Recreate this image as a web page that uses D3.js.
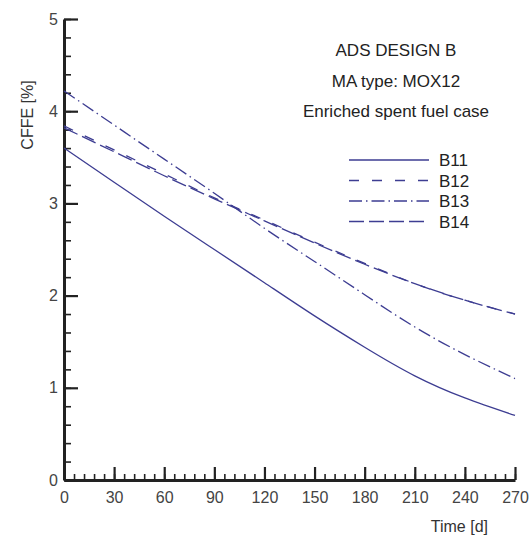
<!DOCTYPE html>
<html>
<head>
<meta charset="utf-8">
<script src="https://cdnjs.cloudflare.com/ajax/libs/d3/7.8.5/d3.min.js"></script>
<style>
  body { margin: 0; background: #fff; }
  text { font-family: "Liberation Sans", Arial, sans-serif; }
</style>
</head>
<body>
<div id="container"></div>
<script>
'use strict'
// data
const days = [0, 30, 60, 90, 120, 150, 180, 210, 240, 270];
const b11 = [3.60, 3.23, 2.86, 2.50, 2.14, 1.78, 1.44, 1.13, 0.89, 0.70];
const b12 = [3.84, 3.58, 3.32, 3.06, 2.82, 2.58, 2.35, 2.13, 1.95, 1.80];
const b13 = [4.22, 3.85, 3.48, 3.11, 2.73, 2.37, 2.01, 1.66, 1.36, 1.10];
const b14 = [3.82, 3.56, 3.30, 3.05, 2.81, 2.57, 2.34, 2.13, 1.95, 1.80];
const seriesNames = ["B11", "B12", "B13", "B14"];
const xTicks = [0, 30, 60, 90, 120, 150, 180, 210, 240, 270];
const yTicks = [0, 1, 2, 3, 4, 5];
const titleLines = ["ADS DESIGN B", "MA type: MOX12", "Enriched spent fuel case"];

const w = 532, h = 542;
const lineColor = "#3d3d92";
const dashes = [null, "10,13", "13,4,1.5,4", "15,5"];

const svg = d3.select("#container").append("svg")
              .attr("width", w).attr("height", h);

const x = d3.scaleLinear().domain([0, 270]).range([64, 515]);
const y = d3.scaleLinear().domain([0, 5]).range([480, 19]);

// minor ticks first
svg.append("g").attr("transform", "translate(0,480)")
   .call(d3.axisBottom(x).tickValues(d3.range(0, 271, 6)).tickSize(-6).tickFormat(""))
   .call(g => g.select(".domain").remove())
   .call(g => g.selectAll("line").attr("stroke", "#222").attr("stroke-width", 1.6));
svg.append("g").attr("transform", "translate(64,0)")
   .call(d3.axisLeft(y).tickValues(d3.range(0, 5.01, 0.2)).tickSize(-7).tickFormat(""))
   .call(g => g.select(".domain").remove())
   .call(g => g.selectAll("line").attr("stroke", "#222").attr("stroke-width", 1.6));

// major axes
const xAxis = d3.axisBottom(x).tickValues(xTicks).tickSize(-13).tickPadding(12).tickSizeOuter(0);
svg.append("g").attr("transform", "translate(0,480)").call(xAxis)
   .call(g => g.select(".domain").attr("stroke", "#222").attr("stroke-width", 3))
   .call(g => g.selectAll("line").attr("stroke", "#222").attr("stroke-width", 2.2))
   .call(g => g.selectAll("text").attr("fill", "#444").style("font-size", "16px"));

const yAxis = d3.axisLeft(y).tickValues(yTicks).tickFormat(d3.format("d"))
                .tickSize(-14).tickPadding(6).tickSizeOuter(0);
svg.append("g").attr("transform", "translate(64,0)").call(yAxis)
   .call(g => g.select(".domain").attr("stroke", "#222").attr("stroke-width", 3))
   .call(g => g.selectAll("line").attr("stroke", "#222").attr("stroke-width", 2.2))
   .call(g => g.selectAll("text").attr("fill", "#444").style("font-size", "16px"));

// axis titles
svg.append("text").text("CFFE [%]")
   .attr("transform", "rotate(-90)").attr("x", -115).attr("y", 33)
   .attr("text-anchor", "middle").attr("fill", "#333").style("font-size", "16px");
svg.append("text").text("Time [d]")
   .attr("x", 488).attr("y", 532)
   .attr("text-anchor", "end").attr("fill", "#333").style("font-size", "16px");

// curves
const series = [b11, b12, b13, b14];
const line = d3.line().x(d => x(d[0])).y(d => y(d[1])).curve(d3.curveNatural);
series.forEach(function(vals, i) {
  svg.append("path")
     .datum(days.map((d, k) => [d, vals[k]]))
     .attr("d", line).attr("fill", "none")
     .attr("stroke", lineColor).attr("stroke-width", 1.3)
     .attr("stroke-dasharray", dashes[i]);
});

// title block
titleLines.forEach(function(t, i) {
  svg.append("text").text(t)
     .attr("x", 396).attr("y", 56 + i * 30.5)
     .attr("text-anchor", "middle").attr("fill", "#222").style("font-size", "17px");
});

// legend
seriesNames.forEach(function(name, i) {
  const ly = 160 + i * 20.5;
  svg.append("line").attr("x1", 349).attr("x2", 429).attr("y1", ly).attr("y2", ly)
     .attr("stroke", lineColor).attr("stroke-width", 1.3)
     .attr("stroke-dasharray", dashes[i]);
  svg.append("text").text(name).attr("x", 439).attr("y", ly + 6)
     .attr("fill", "#222").style("font-size", "17px");
});
</script>
</body>
</html>
